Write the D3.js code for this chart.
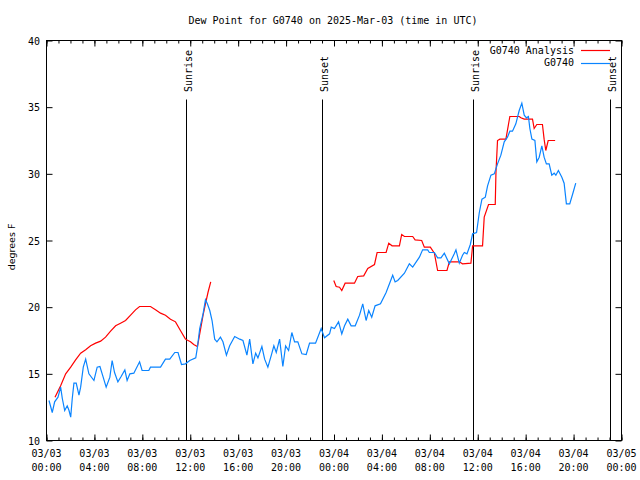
<!DOCTYPE html>
<html><head><meta charset="utf-8">
<script src="https://cdn.jsdelivr.net/npm/d3@7"></script>
<style>body{margin:0;background:#fff}svg{display:block}text{font-family:"DejaVu Sans Mono",monospace;font-size:10px;fill:#000}</style>
</head><body><svg id="c" width="640" height="480"></svg>
<script>
// hours after 2025-03-03 00:00 UTC
const obsHours = [0.21,0.48,0.68,0.96,1.18,1.32,1.52,1.73,1.88,2.02,2.15,2.29,2.48,2.71,2.85,3.07,3.27,3.54,3.96,4.23,4.46,4.73,4.98,5.29,5.48,5.68,5.96,6.23,6.54,6.73,6.96,7.29,7.77,7.98,8.54,8.68,9.52,9.93,10.29,10.71,10.98,11.27,11.6,11.96,12.46,12.6,12.79,13.07,13.27,13.43,13.63,13.82,14.04,14.23,14.52,14.73,15.02,15.29,15.71,16.13,16.4,16.73,16.96,17.23,17.46,17.65,17.98,18.21,18.48,18.77,18.98,19.18,19.46,19.73,19.96,20.21,20.48,20.71,20.98,21.32,21.68,21.96,22.46,22.93,23.21,23.63,23.77,24.04,24.38,24.65,24.88,25.15,25.43,25.77,26.13,26.4,26.68,26.9,27.15,27.43,27.88,28.35,28.9,29.1,29.32,29.88,30.29,30.57,31.13,31.4,31.82,31.96,32.38,32.65,32.93,33.21,33.63,34.04,34.18,34.46,34.73,34.88,35.1,35.38,35.57,35.9,36.13,36.35,36.63,36.82,37.1,37.38,37.65,37.93,38.21,38.48,38.68,38.9,39.18,39.46,39.68,39.88,40.07,40.23,40.35,40.52,40.77,40.93,41.13,41.35,41.54,41.73,41.96,42.18,42.38,42.52,42.73,43.02,43.21,43.4,43.68,43.96,44.18];
const obsDew = [13.0,12.1,12.9,13.25,14.0,13.15,12.25,12.6,12.25,11.75,13.15,14.3,14.3,13.4,14.0,15.5,16.1,15.0,14.5,15.5,15.55,14.75,14.0,14.75,16.0,15.1,14.4,14.8,15.3,14.5,15.0,15.05,15.9,15.25,15.25,15.5,15.5,16.1,16.1,16.6,16.6,15.7,15.75,16.0,16.2,17.0,18.4,19.5,20.55,20.25,19.75,19.0,17.6,17.4,17.75,17.4,16.4,17.1,17.8,17.6,17.5,16.4,17.6,15.75,16.55,16.2,17.05,16.1,15.5,16.4,17.1,16.6,17.6,15.55,17.1,16.75,18.1,17.4,17.4,16.5,16.45,17.3,17.3,18.4,17.7,18.0,18.5,18.4,18.9,18.0,18.6,19.1,18.6,18.6,19.4,20.25,19.0,19.75,19.25,20.1,20.25,21.1,22.4,21.9,22.0,22.55,23.25,23.0,23.75,24.3,24.3,24.1,24.1,23.7,23.7,24.05,23.25,24.0,24.3,23.3,23.9,24.1,24.0,24.7,25.5,25.6,27.1,28.1,28.25,29.1,29.9,30.0,30.75,31.4,32.4,32.75,33.2,33.2,33.75,34.75,35.3,34.4,34.2,34.3,33.4,32.6,32.5,30.9,31.25,32.1,31.25,30.75,30.75,29.9,30.05,29.9,30.25,29.75,29.3,27.75,27.75,28.6,29.3];
// null marks the gap in the analysis series
const anaHours = [0.71,1.18,1.6,2.02,2.43,2.85,3.27,3.68,4.1,4.52,4.93,5.35,5.77,6.18,6.6,7.02,7.43,7.77,8.68,9.1,9.52,9.93,10.35,10.77,11.18,11.6,12.02,12.29,12.6,12.79,13.07,13.27,13.48,13.71,18.0,23.98,24.18,24.46,24.65,24.93,25.71,25.98,26.48,26.82,27.38,27.6,28.35,28.57,28.85,29.46,29.65,29.88,30.57,30.77,31.32,31.54,32.04,32.38,32.65,33.43,33.63,34.46,34.73,35.43,35.57,36.4,36.54,36.9,37.46,37.52,37.65,37.85,38.35,38.68,39.46,39.6,39.88,40.57,40.71,40.93,41.4,41.54,41.68,41.88,42.46];
const anaDew = [13.25,14.1,15.0,15.5,16.05,16.55,16.8,17.1,17.3,17.45,17.75,18.2,18.6,18.8,19.0,19.4,19.8,20.05,20.05,19.8,19.55,19.4,19.1,18.9,18.25,17.6,17.4,17.2,17.05,18.0,19.4,20.25,21.1,21.9,null,22.0,21.55,21.5,21.25,21.8,21.8,22.3,22.35,22.9,23.2,24.1,24.1,24.8,24.6,24.6,25.45,25.3,25.3,25.05,25.0,24.5,24.5,24.05,22.75,22.75,23.4,23.4,23.25,23.3,24.6,24.6,26.75,27.7,27.7,30.1,32.5,32.6,32.6,34.3,34.3,34.2,34.1,34.1,33.4,33.7,33.7,32.6,31.75,32.5,32.5];
const sunEvents = ["Sunrise","Sunset","Sunrise","Sunset"];
const sunHours = [11.63,23.02,35.57,47.0];
const yTicks = [10,15,20,25,30,35,40];
const seriesNames = ["G0740 Analysis","G0740"];
const seriesColors = ["#ff0000","#0a84ff"];
const titleText = "Dew Point for G0740 on 2025-Mar-03 (time in UTC)";
const yLabel = "degrees F";

const t0 = Date.UTC(2025,2,3);
const toDate = h => new Date(t0 + h*3600000);
const svg = d3.select("#c");
const L=46.5,R=621.5,T=40.5,B=440.5;
const x = d3.scaleUtc().domain([toDate(0),toDate(48)]).range([L,R]);
const y = d3.scaleLinear().domain([10,40]).range([B,T]);

svg.append("text").attr("x",333).attr("y",24).attr("text-anchor","middle").text(titleText);

// axes with inward ticks
const fmt1 = d3.utcFormat("%m/%d"), fmt2 = d3.utcFormat("%H:%M");
const majorX = d3.utcHour.every(4), minorX = d3.utcHour.every(1);
function xax(gen, ty, major){
  const g = svg.append("g").attr("transform",`translate(0,${ty})`)
    .call(gen(x).ticks(major?majorX:minorX).tickSizeInner(gen===d3.axisBottom?(major?-6:-3):(major?-6:-3)).tickSizeOuter(0).tickFormat(""));
  g.select(".domain").remove();
  g.selectAll("line").attr("stroke","#000");
  return g;
}
xax(d3.axisBottom,B,false); xax(d3.axisBottom,B,true);
xax(d3.axisTop,T,false); xax(d3.axisTop,T,true);
const yl = svg.append("g").attr("transform",`translate(${L},0)`).call(d3.axisLeft(y).tickValues(yTicks).tickSizeInner(-6).tickSizeOuter(0).tickPadding(6));
yl.select(".domain").remove();
yl.selectAll("text").attr("x",-6.5).attr("dy","0.35em").style("font-family","DejaVu Sans Mono").style("font-size","10px");
const yr = svg.append("g").attr("transform",`translate(${R},0)`).call(d3.axisRight(y).tickValues(yTicks).tickSizeInner(-6).tickSizeOuter(0).tickFormat(""));
yr.select(".domain").remove();
svg.selectAll("g line").attr("stroke","#000");

// x labels two lines
x.ticks(majorX).forEach(d=>{
  const t = svg.append("text").attr("text-anchor","middle").attr("x",x(d));
  t.append("tspan").attr("x",x(d)).attr("y",457).text(fmt1(d));
  t.append("tspan").attr("x",x(d)).attr("y",471).text(fmt2(d));
});

svg.append("text").attr("transform","translate(15,247) rotate(-90)").attr("text-anchor","middle")
  .style("font-family","DejaVu Sans").style("font-size","9.5px").text(yLabel);

// frame
svg.append("rect").attr("x",L).attr("y",T).attr("width",R-L).attr("height",B-T).attr("fill","none").attr("stroke","#000");

// sun events
sunEvents.forEach((s,i)=>{
  const xp = Math.round(x(toDate(sunHours[i])))+0.5;
  svg.append("line").attr("x1",xp).attr("x2",xp).attr("y1",99.5).attr("y2",B).attr("stroke","#000");
  svg.append("text").attr("transform",`translate(${xp+5},92) rotate(-90)`).text(s);
});

// series
const line = d3.line().defined(d=>d[1]!==null).x(d=>x(toDate(d[0]))).y(d=>y(d[1]));
svg.append("path").datum(anaHours.map((h,i)=>[h,anaDew[i]])).attr("d",line).attr("fill","none").attr("stroke",seriesColors[0]).attr("stroke-width",1.2);
svg.append("path").datum(obsHours.map((h,i)=>[h,obsDew[i]])).attr("d",line).attr("fill","none").attr("stroke",seriesColors[1]).attr("stroke-width",1.2);

// legend
seriesNames.forEach((n,i)=>{
  const ly = 50 + i*12.7;
  svg.append("text").attr("x",574).attr("y",ly+3.5).attr("text-anchor","end").text(n);
  svg.append("line").attr("x1",581).attr("x2",610).attr("y1",Math.round(ly)+0.5).attr("y2",Math.round(ly)+0.5).attr("stroke",seriesColors[i]).attr("stroke-width",1.2);
});
</script></body></html>
